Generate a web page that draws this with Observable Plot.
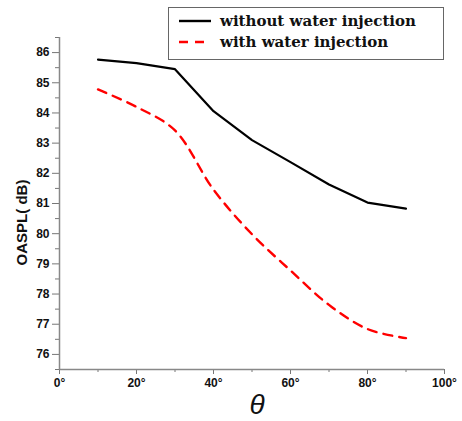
<!DOCTYPE html>
<html><head><meta charset="utf-8">
<script src="https://cdn.jsdelivr.net/npm/d3@7"></script>
<script src="https://cdn.jsdelivr.net/npm/@observablehq/plot@0.6"></script>
<style>
body{margin:0;background:#fff;}
#wrap{position:relative;width:462px;height:421px;overflow:hidden;}
#legend{position:absolute;left:168px;top:7px;width:276px;height:53px;border:1.3px solid #666;box-sizing:border-box;background:#fff;font-family:"DejaVu Serif",serif;font-weight:bold;font-size:15px;color:#111;}
#legend .row{position:absolute;left:9px;display:flex;align-items:center;white-space:nowrap;}
#legend svg{margin-right:8px;}
svg text{font-family:Arial,"Liberation Sans",sans-serif;}
</style></head><body><div id="wrap"><div id="legend"></div></div>
<script>
const theta = [10,20,30,40,50,60,70,80,90];
const without = [85.77,85.65,85.45,84.06,83.1,82.37,81.63,81.03,80.83];
const withWater = [84.78,84.2,83.42,81.46,79.98,78.78,77.64,76.84,76.54];
const seriesNames = ["without water injection","with water injection"];
const xTicks = [0,20,40,60,80,100];
const xMinor = [10,30,50,70,90];
const yTicks = [76,77,78,79,80,81,82,83,84,85,86];
const yMinor = [75.5,76.5,77.5,78.5,79.5,80.5,81.5,82.5,83.5,84.5,85.5,86.5];
const yLabel = "OASPL( dB)";
const xLabel = "θ";

const data = [
  ...theta.map((t,i)=>({t, v: without[i], s: seriesNames[0]})),
  ...theta.map((t,i)=>({t, v: withWater[i], s: seriesNames[1]}))
];

const chart = Plot.plot({
  width: 462, height: 421,
  marginLeft: 59, marginRight: 18, marginTop: 37, marginBottom: 52,
  x: {domain: [0,100]},
  y: {domain: [75.5,86.5]},
  style: {fontFamily: "Arial, Liberation Sans, sans-serif", fontSize: "12px", fontWeight: "bold", color: "#111", overflow: "visible"},
  marks: [
    Plot.axisY({ticks: yMinor, tickSize: 4, tickFormat: () => "", stroke: "#777", label: null}),
    Plot.axisY({ticks: yTicks, tickSize: 7, tickPadding: 3, stroke: "#777", label: null, fontSize: 12, fontWeight: "bold"}),
    Plot.axisX({ticks: xMinor, tickSize: 3, tickFormat: () => "", stroke: "#777", label: null}),
    Plot.axisX({ticks: xTicks, tickSize: 5, tickPadding: 4, stroke: "#777", tickFormat: d => d + "°", label: null, fontSize: 12, fontWeight: "bold"}),
    Plot.ruleY([75.5], {stroke: "#888", strokeWidth: 1.5}),
    Plot.ruleX([0], {stroke: "#888", strokeWidth: 1.5}),
    Plot.text([yLabel], {frameAnchor: "left", textAnchor: "middle", rotate: -90, dx: -37, dy: 19, fontSize: 15, fontWeight: "bold", fill: "#111"}),
    Plot.text([xLabel], {frameAnchor: "bottom", textAnchor: "middle", dx: 5, dy: 44, fontSize: 28, fontStyle: "italic", fontWeight: "normal", fontFamily: "Liberation Serif, serif", fill: "#111"}),
    Plot.line(data.filter(d=>d.s===seriesNames[0]), {x: "t", y: "v", stroke: "#000", strokeWidth: 2.2, curve: "linear"}),
    Plot.line(data.filter(d=>d.s===seriesNames[1]), {x: "t", y: "v", stroke: "#ff0000", strokeWidth: 2.4, strokeDasharray: "9,7", curve: "catmull-rom"})
  ]
});
document.getElementById("wrap").prepend(chart);

const leg = document.getElementById("legend");
const styles = [{c:"#000", d:""},{c:"#ff0000", d:"9,7"}];
seriesNames.forEach((n,i)=>{
  const row = document.createElement("div");
  row.className = "row";
  row.style.top = (i===0 ? 3 : 24) + "px";
  row.innerHTML = `<svg width="34" height="20"><line x1="1" x2="33" y1="10" y2="10" stroke="${styles[i].c}" stroke-width="2.4" stroke-dasharray="${styles[i].d}"/></svg><span>${n}</span>`;
  leg.appendChild(row);
});
</script></body></html>
